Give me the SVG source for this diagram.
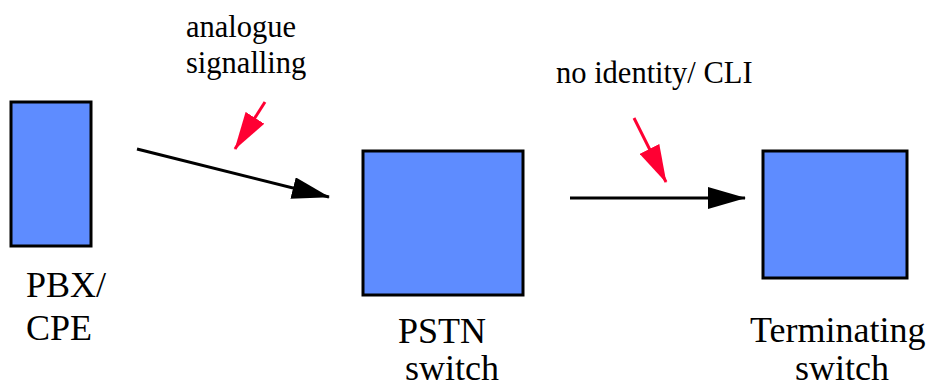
<svg xmlns="http://www.w3.org/2000/svg" width="935" height="387" viewBox="0 0 935 387">
<style>
.box{fill:#5e8cff;stroke:#000;stroke-width:3}
text{font-family:"Liberation Serif","Times New Roman",serif;fill:#000}
.big{font-size:36px}
.small{font-size:30.5px}
.blk{stroke:#000;stroke-width:3;fill:none}
.red{stroke:#ff0033;stroke-width:3;fill:none}
</style>
<defs>
<marker id="ah" markerUnits="userSpaceOnUse" markerWidth="38" markerHeight="22" refX="37" refY="11" orient="auto" viewBox="0 0 38 22">
<path d="M0,0 L38,11 L0,22 z" fill="#000"/>
</marker>
<marker id="ahr" markerUnits="userSpaceOnUse" markerWidth="38" markerHeight="22" refX="37" refY="11" orient="auto" viewBox="0 0 38 22">
<path d="M0,0 L38,11 L0,22 z" fill="#ff0033"/>
</marker>
</defs>
<g id="pbx">
<rect class="box" x="11" y="102" width="80" height="144"/>
<text class="big" x="26" y="297">PBX/</text>
<text class="big" x="26" y="340">CPE</text>
</g>
<g id="pstn">
<rect class="box" x="363" y="151" width="160" height="144"/>
<text class="big" x="398" y="343">PSTN</text>
<text class="big" x="405" y="380">switch</text>
</g>
<g id="term">
<rect class="box" x="763" y="151" width="144" height="127"/>
<text class="big" x="750" y="342">Terminating</text>
<text class="big" x="795" y="380">switch</text>
</g>
<g id="label-analogue">
<text class="small" x="186" y="37">analogue</text>
<text class="small" x="186" y="73">signalling</text>
</g>
<g id="label-cli">
<text class="small" x="556" y="83">no identity/ CLI</text>
</g>
<g id="connectors">
<line class="blk" x1="137" y1="149" x2="329" y2="197" marker-end="url(#ah)"/>
<line class="blk" x1="570" y1="198" x2="745" y2="198" marker-end="url(#ah)"/>
<line class="red" x1="265" y1="102" x2="235" y2="149" marker-end="url(#ahr)"/>
<line class="red" x1="634" y1="118" x2="666" y2="182" marker-end="url(#ahr)"/>
</g>
</svg>
